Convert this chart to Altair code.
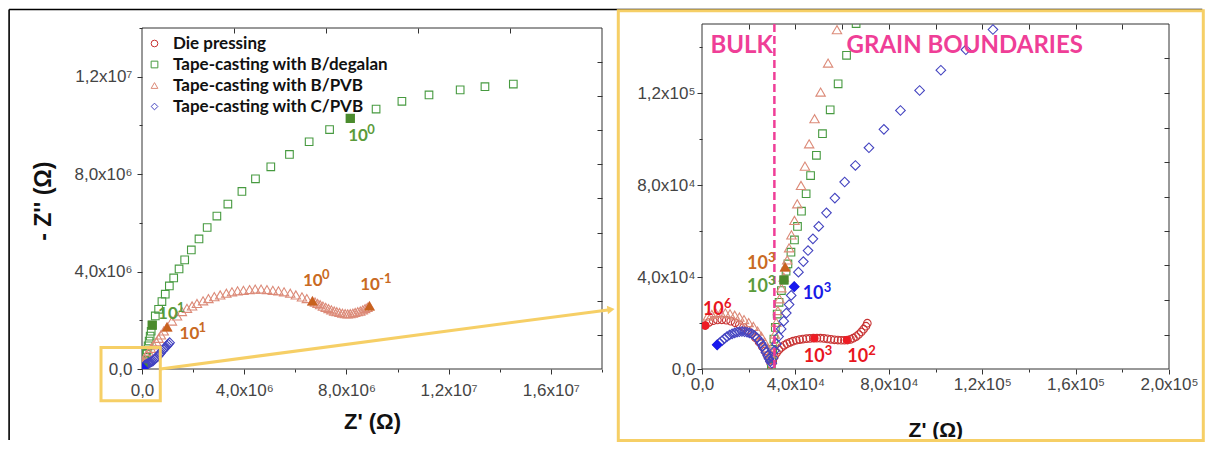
import altair as alt
import pandas as pd

# ------------------------------------------------------------------ data (Ohm)
SERIES = ["Die pressing", "Tape-casting with B/degalan",
          "Tape-casting with B/PVB", "Tape-casting with C/PVB"]
OUTLINE = ["#c83434", "#479a40", "#dc8a78", "#4444c0"]
SHAPES = ["circle", "square", "triangle-up", "diamond"]
SIZES = [58, 58, 88, 92]
FILL_COLORS = ["#ee1c24", "#4b8b2d", "#c8621e", "#1818ee"]
FILL_SIZES = [64, 85, 115, 115]

die_x = [1400, 3000, 4800, 6600, 8500, 10400, 12300, 14200, 16000, 17800, 19600, 21300, 22900, 24400,
         25800, 27000, 28000, 28900, 29600,
         30300, 31000, 31900, 32900, 34000, 35200, 36400, 37700, 39000, 40400, 41800, 43200, 44700,
         46200, 47700, 49200, 50700, 52200, 53700, 55200, 56700, 58200, 59600, 61000, 62300, 63600,
         64800, 66000, 67100, 68200, 69200, 70200, 70800]
die_y = [18900, 20300, 21000, 21300, 21400, 21200, 20800, 20100, 19200, 18100, 16800, 15300, 13600, 11800,
         9800, 7800, 5800, 3800, 2000,
         3500, 5400, 7000, 8300, 9400, 10300, 11000, 11600, 12100, 12500, 12800, 13000, 13200,
         13300, 13400, 13400, 13400, 13300, 13100, 12900, 12700, 12600, 12500, 12500, 12600, 12900,
         13400, 14100, 15000, 16100, 17300, 18600, 19900]

deg_x = [29700, 29900, 30300, 30800, 31400, 32200, 33000, 34000, 35100, 36000, 36800, 38100, 39600,
         40900, 42600, 44600, 46500, 49000, 51600, 54900, 58300, 61900, 66000,
         90000, 110000, 140000, 170000, 200000, 240000, 280000, 320000, 360000, 400000,
         520000, 650000, 780000, 910000, 1070000, 1240000, 1450000, 1670000, 1930000, 2230000,
         2550000, 2930000, 3360000, 3910000, 4440000, 5040000, 5770000, 6540000, 7340000, 8150000,
         9160000, 10170000, 11230000, 12450000, 13420000, 14530000]
deg_y = [1500, 4500, 8500, 13000, 18100, 23900, 29000, 34100, 38700, 42500, 45700, 50800, 56100,
         62000, 68600, 76200, 84100, 92900, 102300, 112700, 124000, 136400, 150200,
         250000, 350000, 480000, 620000, 780000, 950000, 1150000, 1350000, 1550000, 1800000,
         2180000, 2450000, 2770000, 3070000, 3410000, 3740000, 4110000, 4480000, 4890000, 5340000,
         5810000, 6280000, 6770000, 7290000, 7810000, 8300000, 8810000, 9330000, 9830000, 10290000,
         10670000, 10990000, 11250000, 11460000, 11590000, 11700000]

pvb_x = [2500, 4200, 6000, 8000, 10000, 12000, 14000, 16000, 18000, 20000, 22000, 23800, 25400,
         26800, 28000, 29000, 29800, 30200, 30700, 31200, 31800, 32500, 33200, 34000, 35000, 35600,
         36500, 37300, 38300, 39600, 40800, 42400, 44100, 45900, 48200, 50800, 54000, 57800, 62000,
         65000, 75000, 90000, 170000, 260000, 350000, 450000, 560000, 650000, 740000, 850000, 980000,
         1170000, 1370000, 1560000, 1760000, 1960000, 2150000, 2390000, 2600000, 2830000, 3060000,
         3300000, 3520000, 3740000, 3970000, 4210000, 4430000, 4660000, 4890000, 5120000, 5340000,
         5560000, 5800000, 6020000, 6260000, 6450000, 6670000, 6770000, 6870000, 6970000, 7080000,
         7190000, 7300000, 7410000, 7520000, 7620000, 7730000, 7840000, 7950000, 8050000, 8150000,
         8250000, 8340000, 8440000, 8540000, 8640000, 8730000, 8820000, 8900000]
pvb_y = [23000, 23700, 24200, 24400, 24400, 24000, 23400, 22600, 21500, 20200, 18500, 16500, 14200,
         11800, 9200, 6500, 3800, 7000, 11000, 15200, 20300, 25400, 30500, 35300, 39900, 44400,
         47400, 52700, 58300, 64600, 71800, 79800, 88200, 97900, 108800, 120400, 133000, 147500, 162000,
         200000, 300000, 440000, 580000, 710000, 850000, 990000, 1120000, 1260000, 1400000, 1560000, 1730000,
         1970000, 2180000, 2360000, 2490000, 2590000, 2690000, 2800000, 2890000, 2970000, 3040000,
         3110000, 3170000, 3210000, 3230000, 3260000, 3280000, 3280000, 3260000, 3230000, 3210000,
         3170000, 3110000, 3040000, 2960000, 2890000, 2800000, 2750000, 2690000, 2640000, 2580000,
         2530000, 2480000, 2430000, 2380000, 2350000, 2320000, 2290000, 2270000, 2260000, 2270000,
         2290000, 2320000, 2350000, 2380000, 2430000, 2480000, 2530000, 2590000]

cpvb_x = [6500, 7500, 8600, 9600, 10700, 11800, 12900, 14000, 15000, 16000, 17100, 18200, 19300,
          20300, 21400, 22500, 23600, 24500, 25300, 26000, 26700, 27400, 28100, 28700, 29300, 29900,
          30400, 31100, 31900, 32800, 33900, 35000, 36100, 37300, 38200, 39500, 41300, 43400, 45400,
          47500, 50000, 53300, 56900, 61100, 65700, 71500, 77900, 85000, 93200, 102300, 113000,
          124600, 137000,
          140000, 180000, 230000, 280000, 330000, 380000, 430000, 480000, 520000, 580000, 630000,
          680000, 720000, 790000, 840000, 880000, 930000, 980000, 1030000, 1080000]
cpvb_y = [10500, 11400, 12300, 13200, 14100, 14800, 15300, 15700, 16000, 16200, 16300, 16200, 16000,
          15700, 15300, 14500, 13500, 12400, 11200, 10000, 8700, 7200, 5800, 4500, 3300, 2500,
          4800, 8000, 10900, 14100, 17400, 20800, 24300, 28000, 32000, 35800, 42100, 46700, 51500,
          56600, 62000, 67900, 74300, 81300, 88500, 96200, 104200, 112400, 121100, 129900, 138800,
          147600, 156000,
          160000, 190000, 220000, 250000, 280000, 300000, 330000, 390000, 440000, 490000, 530000,
          600000, 650000, 740000, 800000, 850000, 900000, 950000, 1020000, 1080000]

# filled (labelled-frequency) points
fill_series = [0, 0, 0, 1, 1, 1, 2, 2, 2, 2, 3, 3]
fill_x = [1400, 48200, 62000, 35100, 400000, 8150000, 35600, 980000, 6670000, 8900000, 6500, 39500]
fill_y = [18900, 13400, 12600, 38700, 1800000, 10290000, 44400, 1730000, 2800000, 2590000, 10500, 35800]

# frequency labels "10^n"
lab_panel = ["L", "L", "L", "L", "L", "R", "R", "R", "R", "R", "R"]
lab_x = [8070000, 630000, 6300000, 8540000, 1470000, 19300, 19300, 43100, 400, 43600, 62200]
lab_y = [9580000, 2270000, 3620000, 3450000, 1430000, 45500, 35600, 32700, 25700, 5100, 5400]
lab_exp = ["0", "1", "0", "-1", "1", "3", "3", "3", "6", "3", "2"]
lab_col = ["green", "green", "orange", "orange", "orange", "orange", "green", "blue", "red", "red", "red"]
LABEL_COLORS = {"red": "#e8161e", "green": "#5b9b3b", "orange": "#c96a23", "blue": "#1a1ae6"}

region_text = ["BULK", "GRAIN BOUNDARIES"]
region_x = [3600, 61900]
region_y = [140300, 140300]
bulk_line_x = [31000]

# axes ticks / labels
LX_TICKS = [0, 2000000, 4000000, 6000000, 8000000, 10000000, 12000000, 14000000, 16000000, 18000000]
LX_LAB_V = [0, 4000000, 8000000, 12000000, 16000000]
LX_LAB = ["0,0", "4,0x10⁶", "8,0x10⁶", "1,2x10⁷", "1,6x10⁷"]
LY_TICKS = [0, 2000000, 4000000, 6000000, 8000000, 10000000, 12000000, 14000000]
LY_LAB_V = [0, 4000000, 8000000, 12000000]
LY_LAB = ["0,0", "4,0x10⁶", "8,0x10⁶", "1,2x10⁷"]
LTOP_TICKS = [3600000, 7200000, 10800000, 14400000]
LRIGHT_TICKS = [1400000, 2800000, 4200000, 5600000, 7000000, 8400000, 9800000, 11200000, 12600000]
RX_TICKS = [0, 20000, 40000, 60000, 80000, 100000, 120000, 140000, 160000, 180000, 200000]
RX_LAB_V = [0, 40000, 80000, 120000, 160000, 200000]
RX_LAB = ["0,0", "4,0x10⁴", "8,0x10⁴", "1,2x10⁵", "1,6x10⁵", "2,0x10⁵"]
RY_TICKS = [0, 20000, 40000, 60000, 80000, 100000, 120000, 140000]
RY_LAB_V = [0, 40000, 80000, 120000]
RY_LAB = ["0,0", "4,0x10⁴", "8,0x10⁴", "1,2x10⁵"]
RTOP_TICKS = [20000, 40000, 60000, 80000, 100000, 120000, 140000, 160000, 180000]
RRIGHT_TICKS = [15000, 30000, 45000, 60000, 75000, 90000, 105000, 120000, 135000]

# ------------------------------------------------------------------ frames
rows = []
for i, (xs, ys) in enumerate([(die_x, die_y), (deg_x, deg_y), (pvb_x, pvb_y), (cpvb_x, cpvb_y)]):
    for a, b in zip(xs, ys):
        rows.append({"series": SERIES[i], "x": a, "y": b, "size": SIZES[i]})
pts = pd.DataFrame(rows)

filled = pd.DataFrame({
    "x": fill_x, "y": fill_y,
    "fill": [FILL_COLORS[s] for s in fill_series],
    "shape": [SHAPES[s] for s in fill_series],
    "size": [FILL_SIZES[s] for s in fill_series],
})
labels = pd.DataFrame({"panel": lab_panel, "x": lab_x, "y": lab_y, "exp": lab_exp,
                       "col": [LABEL_COLORS[c] for c in lab_col], "base": ["10"] * len(lab_x)})
regions = pd.DataFrame({"x": region_x, "y": region_y, "t": region_text})
deco = pd.DataFrame({"k": [0]})

TICK_COL = "#333333"
LAB_COL = "#444444"
PINK = "#ef3e97"
YEL = "#f6cf66"
AX_FONT = "Liberation Sans"


def label_expr(vals, texts):
    expr = "''"
    for v, t in reversed(list(zip(vals, texts))):
        expr = f"abs(datum.value - {v}) < 1 ? '{t}' : ({expr})"
    return expr


def major_test(vals):
    return "indexof([" + ",".join(str(v) for v in vals) + "], datum.value) >= 0"


def main_axis(orient, ticks, lab_v, lab, pad, **kw):
    return alt.Axis(orient=orient, values=ticks, labelExpr=label_expr(lab_v, lab),
                    tickSize={"condition": {"test": major_test(lab_v), "value": 5}, "value": 3},
                    tickColor=TICK_COL, tickWidth=1, domain=False, grid=False,
                    labelFont=AX_FONT, labelFontSize=17, labelColor=LAB_COL, labelPadding=pad,
                    labelFlush=False, labelOverlap=False, **kw)


def inner_axis(orient, ticks, off):
    return alt.Axis(orient=orient, values=ticks, labels=False, domain=False, grid=False,
                    tickSize=5, tickColor=TICK_COL, tickWidth=1, offset=off, title=None)


def panel(xdom, ydom, box_x1, box_y1, xaxis, yaxis, taxis, raxis, legend, lab_key, lab_fs, lab_dx):
    xs = alt.Scale(domain=xdom, nice=False, zero=False)
    ys = alt.Scale(domain=ydom, nice=False, zero=False)
    box = alt.Chart(pd.DataFrame({"x0": [0], "x1": [box_x1], "y0": [0], "y1": [box_y1]})).mark_rect(
        fillOpacity=0, stroke="#333333", strokeWidth=1).encode(
        x=alt.X("x0:Q", scale=xs, axis=taxis), x2="x1",
        y=alt.Y("y0:Q", scale=ys, axis=raxis), y2="y1")
    outline = alt.Chart(pts).mark_point(filled=False, strokeWidth=1.1, opacity=1, clip=True).encode(
        x=alt.X("x:Q", scale=xs, axis=xaxis),
        y=alt.Y("y:Q", scale=ys, axis=yaxis),
        color=alt.Color("series:N", scale=alt.Scale(domain=SERIES, range=OUTLINE), legend=legend),
        shape=alt.Shape("series:N", scale=alt.Scale(domain=SERIES, range=SHAPES), legend=legend),
        size=alt.Size("size:Q", scale=None),
    )
    fills = alt.Chart(filled).mark_point(filled=True, opacity=1, strokeWidth=0, clip=True).encode(
        x=alt.X("x:Q", scale=xs, axis=None), y=alt.Y("y:Q", scale=ys, axis=None),
        color=alt.Color("fill:N", scale=None), shape=alt.Shape("shape:N", scale=None),
        size=alt.Size("size:Q", scale=None))
    sub = labels[labels.panel == lab_key]
    base = alt.Chart(sub).mark_text(font="Lato", fontWeight="bold", fontSize=lab_fs, align="left",
                                    baseline="middle").encode(
        x=alt.X("x:Q", scale=xs, axis=None), y=alt.Y("y:Q", scale=ys, axis=None),
        text="base:N", color=alt.Color("col:N", scale=None))
    expo = alt.Chart(sub).mark_text(font="Lato", fontWeight="bold", fontSize=13, align="left",
                                    baseline="middle", dx=lab_dx, dy=-6).encode(
        x=alt.X("x:Q", scale=xs, axis=None), y=alt.Y("y:Q", scale=ys, axis=None),
        text="exp:N", color=alt.Color("col:N", scale=None))
    return box, outline, fills, base, expo, xs, ys


# ---------------- left panel
L_YMAX = 14000000 / (1 - 4 / 345)
lb, lo, lf, lbase, lexp, lxs, lys = panel(
    [0, 18000000], [0, L_YMAX], 18000000, 14000000,
    main_axis("bottom", LX_TICKS, LX_LAB_V, LX_LAB, 8, title="Z' (Ω)", titleFont=AX_FONT,
              titleFontSize=22, titleFontWeight="bold", titleColor="#111111", titleX=230, titleY=52,
              titleBaseline="middle", titleAlign="center"),
    main_axis("left", LY_TICKS, LY_LAB_V, LY_LAB, 5, title="- Z'' (Ω)", titleFont=AX_FONT,
              titleFontSize=23, titleFontWeight="bold", titleColor="#111111", titleX=-98.7,
              titleY=176.7, titleAngle=270, titleBaseline="middle", titleAlign="center"),
    inner_axis("top", LTOP_TICKS, -9), inner_axis("right", LRIGHT_TICKS, -5),
    alt.Legend(title=None, orient="none", legendX=4, legendY=11, padding=0, labelFont="Lato",
               labelFontWeight="bold", labelFontSize=17, labelColor="#111111", labelLimit=400,
               symbolSize=45, symbolStrokeWidth=1, rowPadding=3, labelOffset=10),
    "L", 17, 19)

top_line = alt.Chart(deco).mark_rule(color="black", strokeWidth=1.6).encode(
    x=alt.value(-132.9), x2=alt.value(1060.3), y=alt.value(-14.5))
left_line = alt.Chart(deco).mark_rule(color="black", strokeWidth=1.6).encode(
    x=alt.value(-132.9), y=alt.value(-14.5), y2=alt.value(416))
zoom_box = alt.Chart(deco).mark_rect(fillOpacity=0, stroke=YEL, strokeWidth=3).encode(
    x=alt.value(-41), x2=alt.value(18.3), y=alt.value(323.4), y2=alt.value(376.7))
arrow_line = alt.Chart(deco).mark_rule(color=YEL, strokeWidth=3).encode(
    x=alt.value(18.3), y=alt.value(345), x2=alt.value(466), y2=alt.value(285.9))
arrow_head = alt.Chart(deco).mark_point(shape="triangle-right", filled=True, color=YEL, size=70,
                                        opacity=1, angle=352.4).encode(
    x=alt.value(469), y=alt.value(285.5))

left = alt.layer(top_line, left_line, lb, lo, lf, lbase, lexp, zoom_box, arrow_line, arrow_head).resolve_axis(
    x="independent", y="independent").properties(width=460, height=345)

# ---------------- right panel
rb, ro, rf, rbase, rexp, rxs, rys = panel(
    [0, 200000], [0, 150000], 200000, 150000,
    main_axis("bottom", RX_TICKS, RX_LAB_V, RX_LAB, 2, title="Z' (Ω)", titleFont=AX_FONT,
              titleFontSize=21, titleFontWeight="bold", titleColor="#111111", titleX=233.3,
              titleY=61.7, titleBaseline="middle", titleAlign="center"),
    main_axis("left", RY_TICKS, RY_LAB_V, RY_LAB, 2, title=None),
    inner_axis("top", RTOP_TICKS, -5), inner_axis("right", RRIGHT_TICKS, -5),
    None, "R", 18, 21)

dash = alt.Chart(pd.DataFrame({"x": bulk_line_x})).mark_rule(
    color=PINK, strokeWidth=2.5, strokeDash=[8, 4]).encode(x=alt.X("x:Q", scale=rxs, axis=None))
region_lbl = alt.Chart(regions).mark_text(font="Lato", fontWeight="bold", fontSize=24, color=PINK,
                                          align="left", baseline="middle").encode(
    x=alt.X("x:Q", scale=rxs, axis=None), y=alt.Y("y:Q", scale=rys, axis=None), text="t:N")
yellow_frame = alt.Chart(deco).mark_rect(fillOpacity=0, stroke=YEL, strokeWidth=3).encode(
    x=alt.value(-83.7), x2=alt.value(501.3), y=alt.value(-13.3), y2=alt.value(416.5))

right = alt.layer(yellow_frame, rb, ro, dash, rf, rbase, rexp, region_lbl).resolve_axis(
    x="independent", y="independent").properties(width=467, height=345)

chart = alt.hconcat(left, right, spacing=100, bounds="flush").resolve_scale(
    x="independent", y="independent", color="independent", shape="independent"
).configure_view(strokeWidth=0).properties(padding=0, background="white")

chart.save("out.html", embed_options={"renderer": "svg", "actions": False})
